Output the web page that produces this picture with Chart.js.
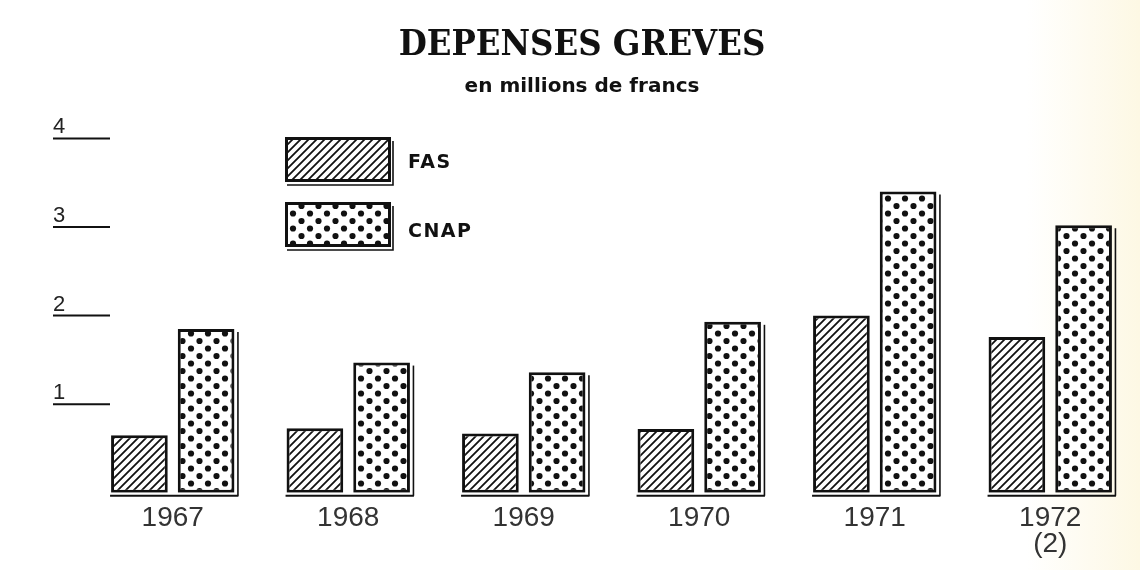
<!DOCTYPE html>
<html>
<head>
<meta charset="utf-8">
<script src="https://cdn.jsdelivr.net/npm/chart.js@4/dist/chart.umd.min.js"></script>
<style>
  html, body { margin: 0; padding: 0; }
  body { width: 1140px; height: 570px; background: linear-gradient(90deg, #ffffff 0%, #ffffff 90%, #fdf8e4 100%); }
  #wrap { width: 1140px; height: 570px; position: relative; }
</style>
</head>
<body>
<div id="wrap"><canvas id="greves"></canvas></div>
<script>
// données (millions de francs)
const annees = ['1967', '1968', '1969', '1970', '1971', ['1972', '(2)']];
const fas = [0.65, 0.73, 0.67, 0.72, 2.0, 1.76];
const cnap = [1.85, 1.47, 1.36, 1.93, 3.4, 3.02];
const yTicks = [1, 2, 3, 4];

// motifs : hachures et points
function hachures() {
    const c = document.createElement('canvas');
    c.width = 8; c.height = 8;
    const g = c.getContext('2d');
    g.fillStyle = '#fff';
    g.fillRect(0, 0, 8, 8);
    g.strokeStyle = '#111';
    g.lineWidth = 1.8;
    g.beginPath();
    g.moveTo(-2, 10); g.lineTo(10, -2);
    g.moveTo(-2, 2); g.lineTo(2, -2);
    g.moveTo(6, 10); g.lineTo(10, 6);
    g.stroke();
    return g.createPattern(c, 'repeat');
}

function points() {
    const c = document.createElement('canvas');
    c.width = 17; c.height = 15;
    const g = c.getContext('2d');
    g.fillStyle = '#fff';
    g.fillRect(0, 0, 17, 15);
    g.fillStyle = '#111';
    const pts = [[4, 3.5], [12.5, 11], [12.5, -4], [-4.5, 11], [21, 11], [4, 18.5]];
    for (const p of pts) {
        g.beginPath();
        g.arc(p[0], p[1], 3.1, 0, Math.PI * 2);
        g.fill();
    }
    return g.createPattern(c, 'repeat');
}

const motifFas = hachures();
const motifCnap = points();

// ombres des barres, graduations de gauche et légende
const decor = {
    id: 'decor',
    afterDatasetsDraw(chart) {
        const ctx = chart.ctx;
        const y = chart.scales.y;
        const m0 = chart.getDatasetMeta(0).data;
        const m1 = chart.getDatasetMeta(1).data;
        ctx.save();
        ctx.strokeStyle = '#111';
        for (let i = 0; i < m0.length; i++) {
            const a = m0[i], b = m1[i];
            const wa = a.width / 2, wb = b.width / 2;
            // trait de base du groupe
            ctx.lineWidth = 2;
            ctx.beginPath();
            ctx.moveTo(a.x - wa - 1, a.base + 3);
            ctx.lineTo(b.x + wb + 4, b.base + 3);
            ctx.stroke();
            // ombre droite de la barre CNAP
            ctx.lineWidth = 1.6;
            ctx.beginPath();
            ctx.moveTo(b.x + wb + 3.5, b.y + 3);
            ctx.lineTo(b.x + wb + 3.5, b.base + 3);
            ctx.stroke();
        }

        // graduations
        ctx.fillStyle = '#222';
        ctx.font = '22px "Liberation Sans", Arial, sans-serif';
        ctx.textAlign = 'left';
        ctx.textBaseline = 'alphabetic';
        for (const v of yTicks) {
            const py = y.getPixelForValue(v);
            ctx.fillText(String(v), 53, py - 5);
            ctx.lineWidth = 2;
            ctx.beginPath();
            ctx.moveTo(53, py);
            ctx.lineTo(110, py);
            ctx.stroke();
        }

        // légende
        const boxes = [
            { ds: chart.data.datasets[0], x: 285, y: 137, ty: 26 },
            { ds: chart.data.datasets[1], x: 285, y: 202, ty: 30 }
        ];
        for (const bx of boxes) {
            ctx.fillStyle = bx.ds.backgroundColor;
            ctx.fillRect(bx.x, bx.y, 106, 45);
            ctx.lineWidth = 3;
            ctx.strokeRect(bx.x + 1.5, bx.y + 1.5, 103, 42);
            ctx.lineWidth = 1.6;
            ctx.beginPath();
            ctx.moveTo(bx.x + 2, bx.y + 48);
            ctx.lineTo(bx.x + 108, bx.y + 48);
            ctx.lineTo(bx.x + 108, bx.y + 4);
            ctx.stroke();
            ctx.fillStyle = '#111';
            ctx.font = 'bold 19px "DejaVu Sans", sans-serif';
            ctx.letterSpacing = '1.5px';
            ctx.textBaseline = 'middle';
            ctx.fillText(bx.ds.label, bx.x + 123, bx.y + bx.ty);
        }
        ctx.restore();
    }
};

new Chart(document.getElementById('greves').getContext('2d'), {
    type: 'bar',
    data: {
        labels: annees,
        datasets: [
            {
                label: 'FAS',
                data: fas,
                backgroundColor: motifFas,
                borderColor: '#111',
                borderWidth: 3,
                borderSkipped: false
            },
            {
                label: 'CNAP',
                data: cnap,
                backgroundColor: motifCnap,
                borderColor: '#111',
                borderWidth: 3,
                borderSkipped: false
            }
        ]
    },
    options: {
        responsive: true,
        maintainAspectRatio: false,
        animation: false,
        categoryPercentage: 0.76,
        barPercentage: 0.85,
        layout: { padding: { left: 26, right: 2, top: 0, bottom: 0 } },
        scales: {
            x: {
                grid: { display: false, drawTicks: false },
                border: { display: false },
                ticks: {
                    color: '#333',
                    padding: 12,
                    font: { family: '"Liberation Sans", Arial, sans-serif', size: 28, lineHeight: 0.95 }
                }
            },
            y: {
                min: 0,
                max: 4.33,
                grid: { display: false, drawTicks: false },
                border: { display: false },
                ticks: { display: false },
                afterFit(scale) { scale.width = 59; }
            }
        },
        plugins: {
            legend: { display: false },
            tooltip: { enabled: false },
            title: {
                display: true,
                text: 'DEPENSES GREVES',
                color: '#111',
                font: { family: '"DejaVu Serif Condensed", "DejaVu Serif", serif', size: 36, weight: 'bold', lineHeight: 1.2 },
                padding: { top: 24, bottom: 8 }
            },
            subtitle: {
                display: true,
                text: 'en millions de francs',
                color: '#111',
                font: { family: '"DejaVu Sans", sans-serif', size: 20, weight: 'bold', lineHeight: 1.2 },
                padding: { top: 0, bottom: 10 }
            }
        }
    },
    plugins: [decor]
});
</script>
</body>
</html>
